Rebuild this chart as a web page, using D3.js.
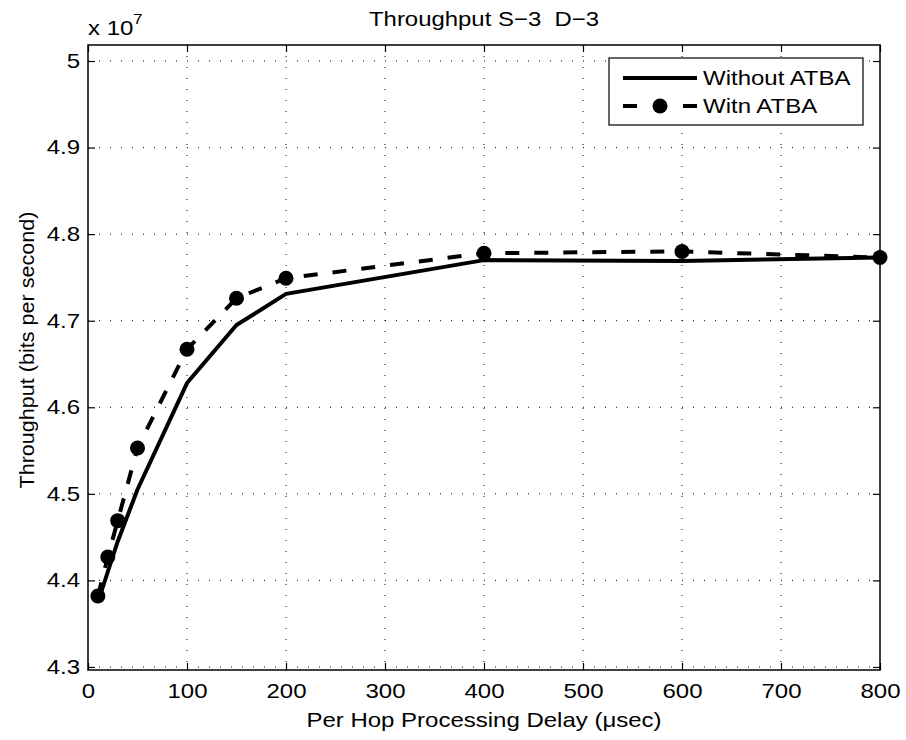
<!DOCTYPE html>
<html>
<head>
<meta charset="utf-8">
<script src="https://cdnjs.cloudflare.com/ajax/libs/d3/7.8.5/d3.min.js"></script>
<style>
  body { margin: 0; background: #fff; }
  text { font-family: "Liberation Sans", Arial, sans-serif; fill: #000; }
</style>
</head>
<body>
<div id="chart"></div>
<script>
// Data (throughput in units of 1e7 bits/s)
var delays = [10, 20, 30, 50, 100, 150, 200, 400, 600, 800];
var withoutATBA = [4.375, 4.41, 4.445, 4.505, 4.628, 4.695, 4.731, 4.770, 4.769, 4.773];
var withATBA = [4.382, 4.427, 4.469, 4.553, 4.667, 4.726, 4.749, 4.778, 4.780, 4.773];
var xTicks = [0, 100, 200, 300, 400, 500, 600, 700, 800];
var yTicks = [4.3, 4.4, 4.5, 4.6, 4.7, 4.8, 4.9, 5.0];
var seriesNames = ["Without ATBA", "Witn ATBA"];

// the reference font is drawn wider than Arial, so stretch text horizontally
var SX = 1.2;

// Set the dimensions and margins
var margin = {left: 88, right: 26, top: 45, bottom: 70},
    width = 906 - margin.left - margin.right,
    height = 740 - margin.top - margin.bottom;

var x = d3.scaleLinear().domain([0, 800]).range([0, width]);
var y = d3.scaleLinear().domain([4.2965, 5.0185]).range([height, 0]);

var svg = d3.select("#chart").append("svg")
    .attr("width", 906)
    .attr("height", 740);

svg.append("rect").attr("width", 906).attr("height", 740).attr("fill", "#fff");

var g = svg.append("g")
    .attr("transform", "translate(" + margin.left + "," + margin.top + ")");

// dotted grid
g.selectAll(".vgrid").data(xTicks.slice(1, -1)).enter().append("line")
    .attr("x1", function(d){ return x(d); }).attr("x2", function(d){ return x(d); })
    .attr("y1", 0).attr("y2", height)
    .attr("stroke", "#000").attr("stroke-width", 1)
    .attr("stroke-dasharray", "1,10");
g.selectAll(".hgrid").data(yTicks).enter().append("line")
    .attr("y1", function(d){ return y(d); }).attr("y2", function(d){ return y(d); })
    .attr("x1", 0).attr("x2", width)
    .attr("stroke", "#000").attr("stroke-width", 1)
    .attr("stroke-dasharray", "1,10");

// axes (ticks pointing inwards, box on all sides)
var fmtY = function(d){ return d === 5 ? "5" : d3.format(".1f")(d); };
var axB = g.append("g").attr("transform", "translate(0," + height + ")")
    .call(d3.axisBottom(x).tickValues(xTicks).tickSizeInner(-7).tickSizeOuter(0).tickPadding(14));
var axT = g.append("g")
    .call(d3.axisTop(x).tickValues(xTicks).tickSizeInner(-7).tickSizeOuter(0).tickFormat(""));
var axL = g.append("g")
    .call(d3.axisLeft(y).tickValues(yTicks).tickSizeInner(-7).tickSizeOuter(0).tickPadding(8).tickFormat(fmtY));
var axR = g.append("g").attr("transform", "translate(" + width + ",0)")
    .call(d3.axisRight(y).tickValues(yTicks).tickSizeInner(-7).tickSizeOuter(0).tickFormat(""));

[axB, axT, axL, axR].forEach(function(a){
    a.select(".domain").remove();
    a.selectAll("line").attr("stroke", "#000").attr("stroke-width", 1.2);
    a.selectAll("text").attr("font-size", 20).attr("font-family", "Liberation Sans, Arial, sans-serif").attr("fill", "#000");
});
axB.selectAll("text").attr("transform", "scale(" + SX + ",1)");
axL.selectAll("text").attr("x", -8 / SX).attr("transform", "scale(" + SX + ",1)");

g.append("rect").attr("width", width).attr("height", height)
    .attr("fill", "none").attr("stroke", "#000").attr("stroke-width", 1.5);

// lines
var line = d3.line()
    .x(function(d, i){ return x(delays[i]); })
    .y(function(d){ return y(d); });

g.append("path").datum(withoutATBA)
    .attr("fill", "none").attr("stroke", "#000").attr("stroke-width", 4)
    .attr("stroke-linejoin", "round")
    .attr("d", line);

g.append("path").datum(withATBA)
    .attr("fill", "none").attr("stroke", "#000").attr("stroke-width", 4)
    .attr("stroke-dasharray", "14,15")
    .attr("d", line);

g.selectAll(".dot").data(withATBA).enter().append("circle")
    .attr("cx", function(d, i){ return x(delays[i]); })
    .attr("cy", function(d){ return y(d); })
    .attr("r", 7.5).attr("fill", "#000");

// texts, stretched around their anchor point
function label(px, py, size, sx, str, rot) {
    var t = svg.append("text")
        .attr("transform", "translate(" + px + "," + py + ")" + (rot ? " rotate(" + rot + ")" : "") + " scale(" + sx + ",1)")
        .attr("text-anchor", "middle").attr("font-size", size)
        .style("white-space", "pre");
    t.text(str);
    return t;
}
label(margin.left + width / 2, 26, 21, 1.14, "Throughput S\u22123 \u00a0D\u22123");
label(margin.left + width / 2, 727, 20, SX, "Per Hop Processing Delay (\u03bcsec)");
label(34, 350, 20, 1.08, "Throughput (bits per second)", -90);

var mult = svg.append("text").attr("transform", "translate(88,35) scale(" + SX + ",1)").attr("font-size", 20);
mult.append("tspan").text("x 10");
mult.append("tspan").attr("font-size", 14).attr("dy", -11).text("7");

// legend
var legLeft = 609, legRight = 863, legTop = 58, legH = 67;
var leg = svg.append("g");
leg.append("rect").attr("x", legLeft).attr("y", legTop)
    .attr("width", legRight - legLeft).attr("height", legH)
    .attr("fill", "#fff").attr("stroke", "#000").attr("stroke-width", 1.2);
leg.selectAll(".lt").data(seriesNames).enter().append("text")
    .attr("font-size", 20)
    .attr("transform", function(d, i){ return "translate(703," + (legTop + 27 + i * 28) + ") scale(" + SX + ",1)"; })
    .text(function(d){ return d; });
var sampleL = 623, sampleR = 697;
leg.append("line").attr("x1", sampleL).attr("x2", sampleR)
    .attr("y1", legTop + 20).attr("y2", legTop + 20)
    .attr("stroke", "#000").attr("stroke-width", 4);
leg.append("line").attr("x1", sampleL).attr("x2", sampleR)
    .attr("y1", legTop + 48).attr("y2", legTop + 48)
    .attr("stroke", "#000").attr("stroke-width", 4)
    .attr("stroke-dasharray", "14,46");
leg.append("circle").attr("cx", (sampleL + sampleR) / 2).attr("cy", legTop + 48)
    .attr("r", 7.5).attr("fill", "#000");
</script>
</body>
</html>
